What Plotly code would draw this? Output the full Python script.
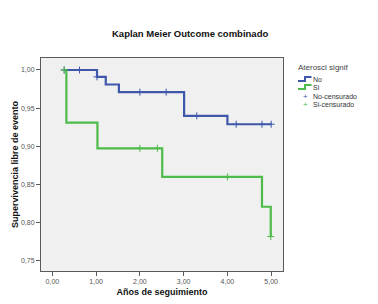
import plotly.graph_objects as go

# ---- data ----
no_t = [0.27, 1.02, 1.22, 1.52, 3.01, 4.00, 5.00]
no_s = [1.000, 0.991, 0.981, 0.971, 0.940, 0.929, 0.929]
no_cens_t = [0.27, 0.62, 1.02, 2.00, 2.60, 3.30, 4.20, 4.79, 5.00]
no_cens_s = [1.000, 1.000, 0.991, 0.971, 0.971, 0.940, 0.929, 0.929, 0.929]

si_t = [0.27, 0.32, 1.03, 2.51, 4.79, 4.99]
si_s = [1.000, 0.931, 0.8975, 0.860, 0.821, 0.782]
si_cens_t = [0.27, 2.00, 2.40, 4.00, 4.99]
si_cens_s = [1.000, 0.8975, 0.8975, 0.860, 0.782]

x_ticks = [0, 1, 2, 3, 4, 5]
y_ticks = [0.75, 0.80, 0.85, 0.90, 0.95, 1.00]

title = "Kaplan Meier Outcome combinado"
x_title = "Años de seguimiento"
y_title = "Supervivencia libre de evento"
legend_title = "Ateroscl signif"
legend_labels = ["No", "Si", "No-censurado", "Si-censurado"]

BLUE = "#3F57AA"
GREEN = "#4DBB4A"
FONT = "Liberation Sans, Arial, sans-serif"

W, H = 378, 304
L, R, T, B = 41, 283, 58, 271


def px(x):
    return (x - L) / (R - L)


def py(y):
    return (B - y) / (B - T)


fig = go.Figure()
fig.add_trace(go.Scatter(x=no_t, y=no_s, mode="lines", line=dict(color=BLUE, width=2.2, shape="hv"),
                         showlegend=False, hoverinfo="skip"))
fig.add_trace(go.Scatter(x=si_t, y=si_s, mode="lines", line=dict(color=GREEN, width=2.2, shape="hv"),
                         showlegend=False, hoverinfo="skip"))
fig.add_trace(go.Scatter(x=no_cens_t, y=no_cens_s, mode="markers",
                         marker=dict(symbol="cross-thin", size=5, line=dict(color=BLUE, width=1)),
                         showlegend=False, hoverinfo="skip"))
fig.add_trace(go.Scatter(x=si_cens_t, y=si_cens_s, mode="markers",
                         marker=dict(symbol="cross-thin", size=5, line=dict(color=GREEN, width=1)),
                         showlegend=False, hoverinfo="skip"))

axis_common = dict(showline=True, linecolor="#5a5a5a", linewidth=1, mirror=True,
                   showgrid=False, zeroline=False, ticks="outside", ticklen=4,
                   tickcolor="#5a5a5a", tickformat=".2f", automargin=False,
                   tickfont=dict(family=FONT, size=7, color="#555"))

fig.update_xaxes(range=[-0.26, 5.27], tickvals=x_ticks,
                 title=dict(text="<b>" + x_title + "</b>", font=dict(family=FONT, size=9, color="#111"), standoff=4),
                 **axis_common)
fig.update_yaxes(range=[0.7369, 1.0157], tickvals=y_ticks,
                 title=dict(text="<b>" + y_title + "</b>", font=dict(family=FONT, size=9, color="#111"), standoff=0),
                 **axis_common)

annotations = [
    dict(text="<b>" + title + "</b>", x=px(190), y=py(34), xref="paper", yref="paper",
         xanchor="center", yanchor="middle",
         showarrow=False, font=dict(family=FONT, size=9.5, color="#111")),
    dict(text=legend_title, x=px(323), y=py(67), xref="paper", yref="paper",
         xanchor="center", yanchor="middle",
         showarrow=False, font=dict(family=FONT, size=8, color="#444")),
]
rows_y = [79, 87, 96, 104]
for lab, yy in zip(legend_labels, rows_y):
    annotations.append(dict(text=lab, x=px(312), y=py(yy), xref="paper", yref="paper",
                            xanchor="left", yanchor="middle", showarrow=False, borderpad=0,
                            font=dict(family=FONT, size=7, color="#333")))
for col, yy in zip([BLUE, GREEN], rows_y[2:]):
    annotations.append(dict(text="+", x=px(305), y=py(yy), xref="paper", yref="paper",
                            xanchor="center", yanchor="middle", borderpad=0,
                            showarrow=False, font=dict(family=FONT, size=8, color=col)))

shapes = []
for col, yy in zip([BLUE, GREEN], rows_y[:2]):
    path = "M {} {} L {} {} L {} {} L {} {}".format(
        px(298), py(yy + 2), px(305), py(yy + 2), px(305), py(yy - 2), px(311.5), py(yy - 2))
    shapes.append(dict(type="path", path=path, xref="paper", yref="paper",
                       line=dict(color=col, width=2)))

fig.update_layout(
    width=W, height=H,
    margin=dict(l=L, r=W - R, t=T, b=H - B),
    paper_bgcolor="white", plot_bgcolor="#F0F0F0",
    separators=",.",
    showlegend=False,
    annotations=annotations,
    shapes=shapes,
    font=dict(family=FONT),
)

fig.write_html("out.html", config={"displayModeBar": False},
               post_script="document.body.style.margin='0';")
